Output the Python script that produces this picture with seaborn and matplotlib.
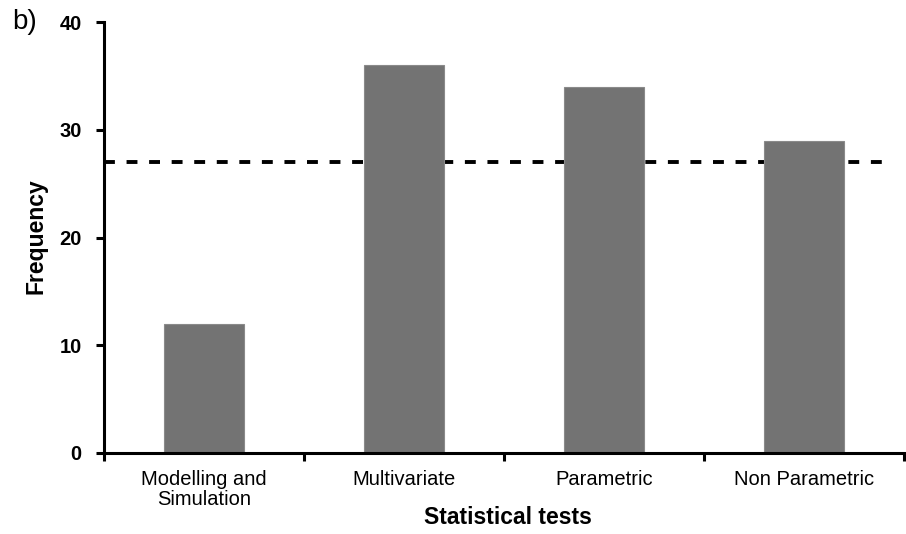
import matplotlib
matplotlib.use("Agg")
import matplotlib.pyplot as plt
import seaborn as sns
import pandas as pd

categories = ["Modelling and\nSimulation", "Multivariate", "Parametric", "Non Parametric"]
frequency = [12, 36, 34, 29]
reference_level = 27
y_ticks = [0, 10, 20, 30, 40]

sns.set_theme(style="white")
plt.rcParams["font.family"] = ["Liberation Sans", "DejaVu Sans"]
plt.rcParams["text.color"] = "black"
plt.rcParams["axes.labelcolor"] = "black"
plt.rcParams["xtick.color"] = "black"
plt.rcParams["ytick.color"] = "black"

df = pd.DataFrame({"test": categories, "freq": frequency})

fig = plt.figure(figsize=(9.06, 5.34), dpi=100)
ax = fig.add_axes([104 / 906, 1 - 453 / 534, 800 / 906, 431 / 534])

ax.axhline(reference_level, xmin=0, xmax=0.98, color="black", lw=2.8,
           dashes=(2.8, 3.0), zorder=1)
sns.barplot(data=df, x="test", y="freq", color="#737373", width=0.4,
            saturation=1, edgecolor="#8a8a8a", linewidth=0.8, ax=ax, zorder=2)

ax.set_xlim(-0.5, len(categories) - 0.5)
ax.set_ylim(0, 40)
ax.set_yticks(y_ticks)
ax.set_yticklabels([str(t) for t in y_ticks], fontsize=14.5, fontweight="bold")

# Boundary ticks between categories, labels centred under the bars
ax.set_xticks([i - 0.5 for i in range(len(categories) + 1)])
ax.set_xticklabels([])
ax.set_xticks(range(len(categories)), minor=True)
ax.set_xticklabels(categories, minor=True, fontsize=14.5, linespacing=1.12)
ax.tick_params(axis="x", which="minor", length=0, pad=12)
ax.tick_params(axis="x", which="major", direction="out", length=6, width=2.2,
               color="black", bottom=True)
ax.tick_params(axis="y", direction="out", length=6, width=2.2, color="black",
               left=True, pad=10)

for side in ("top", "right"):
    ax.spines[side].set_visible(False)
for side in ("left", "bottom"):
    ax.spines[side].set_color("black")
    ax.spines[side].set_linewidth(2.2)

ax.set_xlabel("Statistical tests", fontsize=16.5, fontweight="bold")
ax.xaxis.set_label_coords(0.505, -(517 - 453) / 431)
ax.xaxis.label.set_va("center")
ax.set_ylabel("Frequency", fontsize=16.5, fontweight="bold")
ax.yaxis.set_label_coords(-(104 - 36) / 800, (453 - 236) / 431)
ax.yaxis.label.set_va("center")

fig.text(12 / 906, 1 - 22 / 534, "b)", fontsize=20, va="center", ha="left")

fig.savefig("out.png", dpi=100)
